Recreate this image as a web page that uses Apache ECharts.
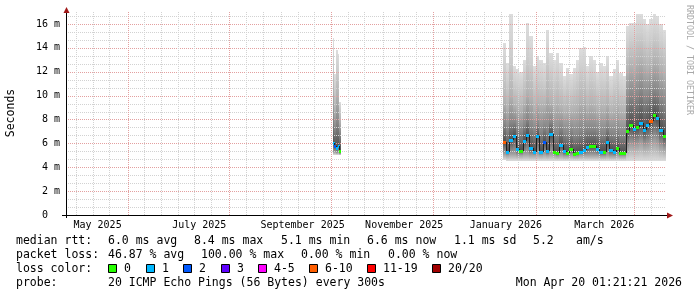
<!DOCTYPE html>
<html><head><meta charset="utf-8">
<script src="https://cdn.jsdelivr.net/npm/echarts@6/dist/echarts.min.js"></script>
<style>html,body{margin:0;padding:0;background:#fff}#c{width:697px;height:297px}</style>
</head><body><div id="c"></div><script>
// ---------------- data ----------------
const axisStart = '2025-04-25 01:21:21';
const axisEnd = '2026-04-20 01:21:21';
const xLabelMonths = ['2025-05-01','2025-07-01','2025-09-01','2025-11-01','2026-01-01','2026-03-01'];
const xLabelTexts = ['May 2025','July 2025','September 2025','November 2025','January 2026','March 2026'];
const xMajorGrid = ['2025-06-01','2025-08-01','2025-10-01','2025-12-01','2026-02-01','2026-04-01'];
const xMinorGrid = ['2025-05-01','2025-05-11','2025-05-21','2025-06-11','2025-06-21','2025-07-01','2025-07-11','2025-07-21','2025-08-11','2025-08-21',
  '2025-09-01','2025-09-11','2025-09-21','2025-10-11','2025-10-21','2025-11-01','2025-11-11','2025-11-21','2025-12-11','2025-12-21',
  '2026-01-01','2026-01-11','2026-01-21','2026-02-11','2026-02-21','2026-03-01','2026-03-11','2026-03-21','2026-04-11'];
const yTickValues = [0,2,4,6,8,10,12,14,16];
const yTickTexts = ['0  ','2 m','4 m','6 m','8 m','10 m','12 m','14 m','16 m'];
const yMinorGrid = [0.667,1.333,2.667,3.333,4.667,5.333,6.667,7.333,8.667,9.333,10.667,11.333,12.667,13.333,14.667,15.333,16.667];

// October 2025 block (bucket boundaries, values in ms)
const octDates = ['2025-10-02','2025-10-03','2025-10-04','2025-10-05','2025-10-06','2025-10-07'];
const octMin = [5.0,5.0,5.0,5.0,5.0];
const octLo  = [5.3,5.3,5.2,5.3,5.1];
const octMed = [6.0,5.75,5.6,5.75,5.4];
const octU1  = [8.0,7.2,7.8,7.6,6.8];
const octU2  = [10.5,8.8,10.0,9.8,7.8];
const octU3  = [12.8,10.5,12.0,11.8,8.8];
const octTop = [14.8,11.8,13.8,13.5,9.5];
const octLoss = [1,2,1,1,0];

// January - April 2026 block
const janDates = ['2026-01-12','2026-01-14','2026-01-16','2026-01-18','2026-01-20','2026-01-22','2026-01-24','2026-01-26','2026-01-28','2026-01-30',
  '2026-02-01','2026-02-03','2026-02-05','2026-02-07','2026-02-09','2026-02-11','2026-02-13','2026-02-15','2026-02-17','2026-02-19',
  '2026-02-21','2026-02-23','2026-02-25','2026-02-27','2026-03-01','2026-03-03','2026-03-05','2026-03-07','2026-03-09','2026-03-11',
  '2026-03-13','2026-03-15','2026-03-17','2026-03-19','2026-03-21','2026-03-23','2026-03-25','2026-03-27','2026-03-29','2026-03-31',
  '2026-04-02','2026-04-04','2026-04-06','2026-04-08','2026-04-10','2026-04-12','2026-04-14','2026-04-16','2026-04-18','2026-04-20 01:21:21'];
const janMin = [4.6,4.5,4.5,4.5,4.5,4.5,4.5,4.5,4.5,4.5,4.5,4.5,4.5,4.5,4.5,4.5,4.5,4.5,4.5,4.5,4.5,4.5,4.5,4.5,4.5,4.5,4.5,4.5,4.5,4.5,4.5,4.5,4.5,4.5,4.5,4.5,4.5,4.5,4.5,4.5,4.5,4.5,4.5,4.5,4.5,4.5,4.5,4.5,4.5];
const janLo  = [5.1,5.0,5.1,5.1,5.0,5.0,5.1,5.1,5.0,5.0,5.1,5.0,5.1,5.0,5.1,5.0,4.9,5.0,4.9,4.9,5.0,4.9,4.9,5.0,5.0,5.0,5.0,5.0,5.0,4.9,4.9,5.0,4.9,4.9,5.0,4.9,4.9,5.6,5.9,5.8,5.9,6.0,5.8,5.9,6.0,6.2,6.0,5.7,5.5];
const janMed = [6.1,5.3,6.3,6.6,5.5,5.4,6.2,6.7,5.6,5.3,6.6,5.3,6.1,5.4,6.8,5.3,5.2,5.9,5.35,5.2,5.55,5.1,5.2,5.3,5.46,5.7,5.75,5.75,5.55,5.3,5.3,6.1,5.46,5.3,5.6,5.2,5.2,7.0,7.56,7.2,7.4,7.7,7.1,7.5,7.9,8.35,8.1,7.14,6.6];
const janU1  = [7.6,7.2,7.8,7.8,7.2,7.0,7.5,8.0,7.4,7.0,7.6,7.0,7.4,7.2,7.8,6.9,6.9,7.3,6.9,6.8,7.0,6.7,6.8,7.0,7.1,7.2,7.2,7.2,7.0,6.9,6.9,7.4,6.9,6.8,7.0,6.7,6.7,9.5,10.0,9.8,10.0,10.4,9.8,9.9,10.2,10.5,10.3,9.6,9.2];
const janU2  = [9.5,9.0,10.0,9.2,9.0,8.8,9.4,10.2,9.8,9.0,9.4,9.2,9.2,10.0,9.5,9.0,9.3,9.0,8.6,8.8,8.7,8.8,9.0,9.5,9.6,9.0,9.3,9.1,8.8,9.0,8.9,9.3,8.6,8.8,9.1,8.7,8.6,12.0,12.5,12.3,12.8,13.0,12.6,12.3,12.6,13.0,12.8,12.2,11.8];
const janU3  = [12.0,11.0,13.0,11.0,10.8,10.6,11.5,13.0,12.5,11.0,11.5,11.2,11.0,12.8,11.8,11.2,11.6,11.0,10.4,10.8,10.5,10.8,11.2,12.0,12.0,11.0,11.5,11.2,10.6,11.0,10.9,11.5,10.3,10.8,11.2,10.5,10.3,14.0,14.5,14.3,15.0,15.0,14.6,14.2,14.6,15.0,14.8,14.2,13.8];
const janTop = [14.4,12.7,16.8,12.5,12.2,12.0,13.0,16.1,15.0,12.5,13.3,13.0,12.7,15.5,13.6,13.0,13.6,12.7,11.6,12.3,11.8,12.3,13.0,14.0,14.1,12.5,13.3,13.0,12.0,12.7,12.5,13.3,11.6,12.2,13.0,11.9,11.6,15.8,16.1,16.1,16.8,16.8,16.4,16.0,16.4,16.8,16.7,16.0,15.5];
const janLoss = [7,1,1,1,1,0,1,1,1,1,1,1,2,1,1,0,0,1,1,0,0,0,0,1,1,1,0,0,1,1,0,1,1,1,0,0,0,0,0,1,0,1,1,1,7,0,1,1,0];

// loss colour legend
const lossLabels = ['0','1','2','3','4-5','6-10','11-19','20/20'];
const lossUpper  = [0,1,2,3,5,10,19,20];
const lossColors = ['#26ff00','#00b8ff','#0059ff','#5e00ff','#ff00ff','#ff5e00','#ff0000','#a10000'];

// legend texts
const rttLabel = 'median rtt:';
const rttStats = ['6.0 ms avg','8.4 ms max','5.1 ms min','6.6 ms now','1.1 ms sd','5.2','am/s'];
const lossLabel = 'packet loss:';
const lossStats = ['46.87 % avg','100.00 % max','0.00 % min','0.00 % now'];
const colorLabel = 'loss color:';
const probeLabel = 'probe:';
const probeText = '20 ICMP Echo Pings (56 Bytes) every 300s';
const stampText = 'Mon Apr 20 01:21:21 2026';
const yTitle = 'Seconds';
const watermark = 'RRDTOOL / TOBI OETIKER';

// ---------------- helpers ----------------
function t(s){
  const parts = s.split(' ');
  const d = parts[0].split('-').map(Number);
  const tm = parts[1] ? parts[1].split(':').map(Number) : [0,0,0];
  return Date.UTC(d[0], d[1]-1, d[2], tm[0], tm[1], tm[2]);
}
const DAY = 86400000;
const X0 = t(axisStart), X1 = t(axisEnd);
function lossColor(n){ for (let i=0;i<lossUpper.length;i++) if (n<=lossUpper[i]) return lossColors[i]; return lossColors[lossColors.length-1]; }

function smokeRows(dates, mn, lo, md, u1, u2, u3, tp){
  const r=[]; for (let i=0;i<md.length;i++) r.push([t(dates[i]), t(dates[i+1]), mn[i], lo[i], md[i], u1[i], u2[i], u3[i], tp[i]]); return r;
}
function medRows(dates, md, loss){
  const r=[]; for (let i=0;i<md.length;i++) r.push([t(dates[i]), t(dates[i+1]), md[i], i>0?md[i-1]:md[i], loss[i]]); return r;
}
const smokeData = smokeRows(octDates,octMin,octLo,octMed,octU1,octU2,octU3,octTop).concat(smokeRows(janDates,janMin,janLo,janMed,janU1,janU2,janU3,janTop));
const medData = medRows(octDates,octMed,octLoss).concat(medRows(janDates,janMed,janLoss));
// grey at each smoke level: min, lo, median, u1, u2, u3, top
const levelGreys = ['#dcdcdc','#a0a0a0','#505050','#878787','#b2b2b2','#cbcbcb','#dddddd'];

const labelCenters = xLabelMonths.map(m => t(m) + 13*DAY);
function nearestIdx(arr, v){ let b=0; for (let i=1;i<arr.length;i++) if (Math.abs(arr[i]-v)<Math.abs(arr[b]-v)) b=i; return b; }

const hGrid = yMinorGrid.map(v => [X0, v, 0]).concat(yTickValues.filter(v=>v>0).map(v => [X0, v, 1]));
const vGrid = xMinorGrid.map(d => [t(d), 0, 0]).concat(xMajorGrid.map(d => [t(d), 0, 1]));
const MAJ = '#e3a0a0', MIN = '#d2d2d2';

const chart = echarts.init(document.getElementById('c'), null, {renderer:'canvas'});
const mono = 'DejaVu Sans Mono';

const option = {
  animation: false,
  backgroundColor: '#ffffff',
  grid: {left: 66, top: 12, width: 600, height: 203, containLabel: false},
  xAxis: {
    type: 'value', min: X0, max: X1, scale: true,
    axisLine: {show: false},
    axisTick: {show: false},
    splitLine: {show: false},
    axisLabel: {
      show: true, customValues: labelCenters, margin: 5,
      fontFamily: mono, fontSize: 10, color: '#000',
      formatter: v => xLabelTexts[nearestIdx(labelCenters, v)]
    }
  },
  yAxis: {
    type: 'value', min: 0, max: 17, interval: 2,
    axisLine: {show: false},
    axisTick: {show: false},
    splitLine: {show: false},
    axisLabel: {
      show: true, customValues: yTickValues, margin: 6,
      fontFamily: mono, fontSize: 10, color: '#000',
      formatter: v => { const i = nearestIdx(yTickValues, v); return Math.abs(yTickValues[i]-v) < 0.01 ? yTickTexts[i] : ''; }
    }
  },
  series: [
    {
      type: 'custom', name: 'smoke', z: 1, silent: true,
      encode: {x: [0,1], y: [2,8]},
      data: smokeData,
      renderItem: (params, api) => {
        const xa = api.value(0), xb = api.value(1);
        const ch = [];
        for (let k=0;k<6;k++){
          const p0 = api.coord([xa, api.value(2+k)]);
          const p1 = api.coord([xb, api.value(3+k)]);
          const x0 = Math.round(p0[0]), x1 = Math.round(p1[0]);
          const yb = Math.round(p0[1]), yt = Math.round(p1[1]);
          if (yb - yt <= 0) continue;
          ch.push({type:'rect', shape:{x:x0, y:yt, width:x1-x0, height:yb-yt},
            style:{fill: {type:'linear', x:0, y:0, x2:0, y2:1, colorStops:[{offset:0, color: levelGreys[k+1]}, {offset:1, color: levelGreys[k]}]}}});
        }
        return {type:'group', children: ch};
      }
    },
    {
      type: 'custom', name: 'hgrid', z: 2, silent: true,
      encode: {x: 0, y: 1},
      data: hGrid,
      renderItem: (params, api) => {
        const a = api.coord([X0, api.value(1)]), b = api.coord([X1, api.value(1)]);
        const y = Math.round(a[1]) + 0.5;
        return {type:'line', shape:{x1:a[0], y1:y, x2:b[0], y2:y}, style:{stroke: api.value(2) ? MAJ : MIN, lineWidth:1, lineDash:[1,1]}};
      }
    },
    {
      type: 'custom', name: 'vgrid', z: 2, silent: true,
      encode: {x: 0, y: 1},
      data: vGrid,
      renderItem: (params, api) => {
        const a = api.coord([api.value(0), 0]), b = api.coord([api.value(0), 17]);
        const x = Math.round(a[0]) + 0.5;
        return {type:'line', shape:{x1:x, y1:a[1], x2:x, y2:b[1]}, style:{stroke: api.value(2) ? MAJ : MIN, lineWidth:1, lineDash:[1,1]}};
      }
    },
    {
      type: 'custom', name: 'median', z: 3, silent: true,
      encode: {x: [0,1], y: 2},
      data: medData,
      renderItem: (params, api) => {
        const xa = api.value(0), xb = api.value(1);
        const p = api.coord([xa, api.value(2)]), q = api.coord([xb, api.value(2)]);
        const pp = api.coord([xa, api.value(3)]);
        const x0 = Math.round(p[0]), x1 = Math.round(q[0]);
        const y = Math.round(p[1]);
        const ch = [];
        ch.push({type:'line', shape:{x1:x0+0.5, y1:Math.round(pp[1]), x2:x0+0.5, y2:y}, style:{stroke:'#202020', lineWidth:1}});
        ch.push({type:'rect', shape:{x:x0, y:y-1, width:Math.max(2, x1-x0), height:3}, style:{fill: lossColor(api.value(4))}});
        return {type:'group', children: ch};
      }
    }
  ],
  graphic: []
};

// decorations and legend
const g = [];
const ARROW = '#a01818';
g.push({type:'line', shape:{x1:62, y1:215.5, x2:670, y2:215.5}, style:{stroke:'#000', lineWidth:1}, z:10});
g.push({type:'line', shape:{x1:66.5, y1:218, x2:66.5, y2:10}, style:{stroke:'#000', lineWidth:1}, z:10});
g.push({type:'polygon', shape:{points:[[667,212.5],[673,215.5],[667,218.5]]}, style:{fill:ARROW}, z:11});
g.push({type:'polygon', shape:{points:[[63.5,13],[66.5,7],[69.5,13]]}, style:{fill:ARROW}, z:11});
g.push({type:'text', x:11, y:113, rotation:Math.PI/2, style:{text:yTitle, font:'11.5px "DejaVu Sans Mono"', fill:'#000', align:'center', verticalAlign:'middle'}});
g.push({type:'text', x:689, y:60, rotation:-Math.PI/2, style:{text:watermark, font:'8.3px "DejaVu Sans Mono"', fill:'#a8a8a8', align:'center', verticalAlign:'middle'}});

const LF = '11.5px "DejaVu Sans Mono"';
function txt(s, x, y, align){ g.push({type:'text', x:x, y:y, style:{text:s, font:LF, fill:'#000', align:align||'left', verticalAlign:'middle'}}); }
const row = [241, 255, 269, 283];
const rttX = [108,194,281,367,454,533,576];
txt(rttLabel, 16, row[0]); rttStats.forEach((s,i)=>txt(s, rttX[i], row[0]));
const lossX = [108,201,301,388];
txt(lossLabel, 16, row[1]); lossStats.forEach((s,i)=>txt(s, lossX[i], row[1]));
txt(colorLabel, 16, row[2]);
const boxX = [108,146,183,221,258,309,367,432];
lossLabels.forEach((s,i)=>{
  g.push({type:'rect', shape:{x:boxX[i]+0.5, y:row[2]-4.5, width:8, height:8}, style:{fill:lossColors[i], stroke:'#000', lineWidth:1}});
  txt(s, boxX[i]+16, row[2]);
});
txt(probeLabel, 16, row[3]); txt(probeText, 108, row[3]); txt(stampText, 682, row[3], 'right');
option.graphic = g;
chart.setOption(option);
</script></body></html>
